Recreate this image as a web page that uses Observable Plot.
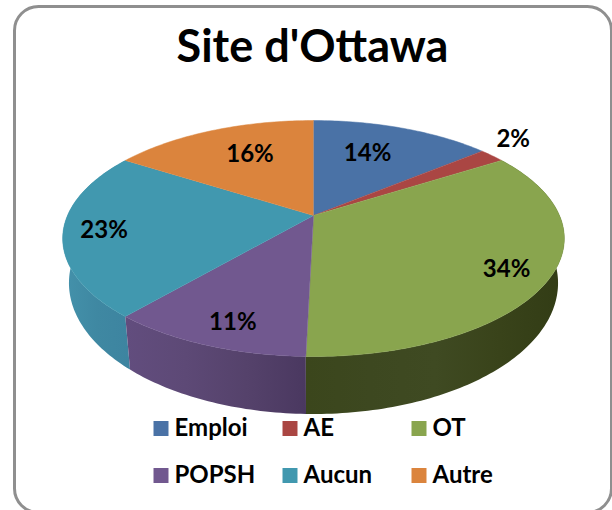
<!DOCTYPE html>
<html><head><meta charset="utf-8">
<script src="https://cdn.jsdelivr.net/npm/d3@7"></script>
<script src="https://cdn.jsdelivr.net/npm/@observablehq/plot@0.6"></script>
<style>html,body{margin:0;padding:0;background:#fff}svg{display:block}</style>
</head><body><div id="chart"></div>
<script>
const categories = ["Emploi", "AE", "OT", "POPSH", "Aucun", "Autre"];
const shares = [14, 2, 34.4, 10.9, 22.7, 16];
const shareLabels = ["14%", "2%", "34%", "11%", "23%", "16%"];
const colors = ["#4a72a6", "#aa4643", "#89a54e", "#71588f", "#4198af", "#db843d"];
const titleText = "Site d'Ottawa";

// label placement, polar: fraction of the radius and a turn in degrees
const labelRadius = [0.66, 1.21, 0.84, 0.84, 0.84, 0.67];
const labelTurn = [-3.3, -3.5, 1.7, -1.8, -0.2, 3.3];

// oblique view of the disc
const W = 612, H = 510;
const cx = 313, cy = 215, kx = 246, ky = 113.5, persp = 0.195;
const drop = 42, dropScale = 1.11, baseScale = 0.975;
const rad = d => d * Math.PI / 180;
function rimTop(deg, f = 1) {
  const u = f * Math.sin(rad(deg)), v = f * Math.cos(rad(deg)), w = 1 + persp * v;
  return {x: cx + kx * u / w, y: cy - ky * v / w};
}
function rimBase(deg) {
  const p = rimTop(deg);
  return {x: cx + baseScale * (p.x - cx), y: cy + dropScale * (p.y - cy) + drop};
}
function arc(a, b, fn) {
  const n = Math.max(2, Math.ceil(b - a));
  return d3.range(n + 1).map(i => fn(a + (b - a) * i / n));
}

let cum = 0;
const slices = categories.map((name, i) => {
  const a = cum * 3.6; cum += shares[i]; const b = cum * 3.6;
  return {name, a, b, mid: (a + b) / 2, label: shareLabels[i], i};
});

const faceRows = slices.flatMap(s => [{x: cx, y: cy}, ...arc(s.a, s.b, d => rimTop(d))].map(p => ({...p, name: s.name})));
const sideRows = name => {
  const s = slices.find(d => d.name === name);
  return [...arc(s.a, s.b, d => rimTop(d)), ...arc(s.a, s.b, rimBase).reverse()];
};
const labelRows = slices.map(s => ({...rimTop(s.mid + labelTurn[s.i], labelRadius[s.i]), label: s.label}));

// legend: three columns, two rows
const legendCols = [153, 282, 411], legendRows = [428, 475];
const legend = categories.map((name, i) => ({
  name, x: legendCols[i % 3] + 7.5, y: legendRows[Math.floor(i / 3)]
}));

const sideStops = {
  sideOT: ["#3b461c", "#3d4820", "#3f4a22", "#39431a", "#323c15"],
  sidePOPSH: ["#624d7e", "#5d4976", "#55426b", "#4a3860"],
  sideAucun: ["#4492ab", "#3f88a2", "#3d84a0"]
};
const defs = () => {
  const d = d3.create("svg:defs");
  for (const [id, stops] of Object.entries(sideStops)) {
    const g = d.append("linearGradient").attr("id", id);
    stops.forEach((c, i) => g.append("stop").attr("offset", i / (stops.length - 1)).attr("stop-color", c));
  }
  return d.node();
};
const side = (name, id) => Plot.line(sideRows(name), {x: "x", y: "y", fill: `url(#${id})`, stroke: "none"});
const font = "Lato, Carlito, sans-serif";

const plot = Plot.plot({
  width: W, height: H, margin: 0,
  x: {domain: [0, W], range: [0, W], axis: null},
  y: {domain: [0, H], range: [0, H], axis: null},
  color: {domain: categories, range: colors},
  style: {background: "#fff", fontFamily: font},
  marks: [
    defs,
    Plot.frame({stroke: "#8f8f8f", strokeWidth: 3, rx: 24, insetLeft: 14, insetTop: 6, insetRight: 1, insetBottom: -2}),
    side("Aucun", "sideAucun"),
    side("POPSH", "sidePOPSH"),
    side("OT", "sideOT"),
    Plot.line(faceRows, {x: "x", y: "y", z: "name", fill: "name", stroke: "name", strokeWidth: 0.5}),
    Plot.text(labelRows, {x: "x", y: "y", text: "label", fontSize: 24, fontWeight: 700, fill: "#000"}),
    Plot.text([titleText], {x: () => 312, y: () => 47, text: d => d, fontSize: 45, fontWeight: 700, fill: "#000"}),
    Plot.dot(legend, {x: "x", y: "y", fill: "name", symbol: "square", r: 8.46}),
    Plot.text(legend, {x: d => d.x + 13.5, y: "y", text: "name", textAnchor: "start", fontSize: 24, fontWeight: 700, fill: "#000"})
  ]
});
document.getElementById("chart").append(plot);
</script></body></html>
